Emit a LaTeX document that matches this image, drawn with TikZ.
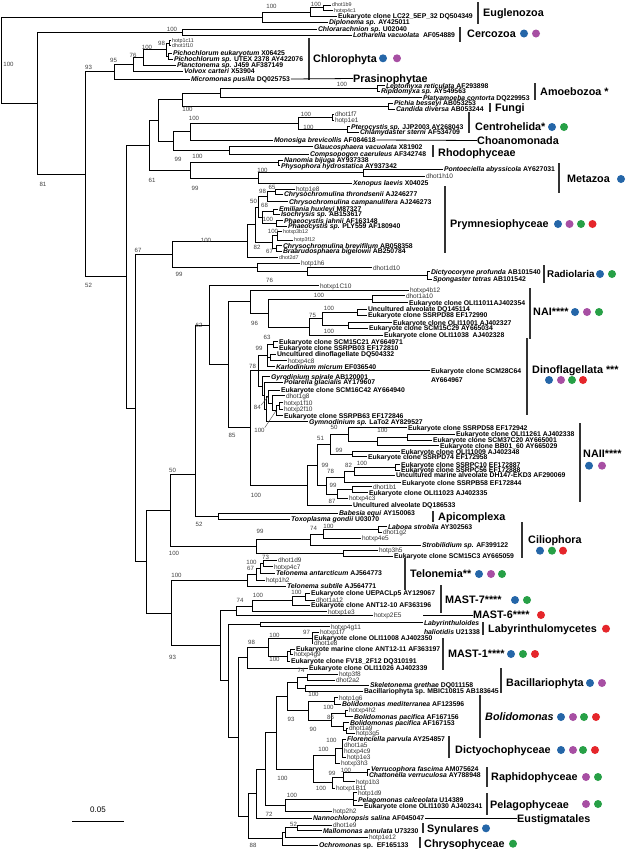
\documentclass[tikz,border=0pt]{standalone}
\usepackage{fontspec}
\setmainfont{Liberation Sans}
\definecolor{cB}{HTML}{2566A8}
\definecolor{cM}{HTML}{A74FA3}
\definecolor{cG}{HTML}{27A046}
\definecolor{cR}{HTML}{E5262B}
\tikzset{
 br/.style={line width=0.8pt, black},
 sp/.style={anchor=west, inner sep=0.8pt, text height=4.7pt, text depth=0pt, font=\fontsize{6.85}{6.85}\selectfont\bfseries},
 ev/.style={anchor=west, inner sep=0.8pt, text height=4.6pt, text depth=0pt, font=\fontsize{6.5}{6.5}\selectfont, text=black!80},
 evs/.style={ev, text height=3.9pt, font=\fontsize{5.4}{5.4}\selectfont},
 bs/.style={inner sep=0pt, text height=4.3pt, text depth=0pt, font=\fontsize{6.1}{6.1}\selectfont, text=black!75},
 cl/.style={anchor=west, inner sep=0pt, text height=7.6pt, text depth=0pt, font=\fontsize{10.8}{12}\selectfont\bfseries},
 bar/.style={line width=1.3pt, black!80},
 dot/.style={circle, inner sep=0pt, minimum size=8pt},
 ldr/.style={line width=0.4pt, black!70},
}
\newcommand\EI[2]{\draw[br] (#1) |- (#2);}
\newcommand\EL[2]{\draw[br] (#1) |- (#2.west);}
\begin{document}
\begin{tikzpicture}[x=1pt,y=-1pt]
\fill[white] (0,0) rectangle (626,849);
\useasboundingbox (0,0) rectangle (626,849);
% ---------- internal nodes
\coordinate (R) at (1,60.2);
\coordinate (N262) at (262,17.2);
\coordinate (N310) at (310,12.1);
\coordinate (N323) at (323,7.85);
\coordinate (N37) at (37,103.2);
\coordinate (N182c) at (182,32.25);
\coordinate (N85) at (85,174.1);
\coordinate (N114) at (114,71.6);
\coordinate (N133) at (133,64.2);
\coordinate (N143) at (143,57.75);
\coordinate (N166) at (166,49.8);
\coordinate (N169a) at (169,43.1);
\coordinate (N169b) at (168,56.3);
\coordinate (N126) at (126,276.6);
\coordinate (N149) at (149,145.35);
\coordinate (N158) at (158,120.3);
\coordinate (N182) at (182,99.65);
\coordinate (N220a) at (220,93.0);
\coordinate (N377a) at (377,88.35);
\coordinate (N388) at (388,106.3);
\coordinate (N173) at (173,141);
\coordinate (N190) at (190,131.65);
\coordinate (N298) at (298,123.3);
\coordinate (N332) at (332,117.15);
\coordinate (N347) at (347,129.5);
\coordinate (N229) at (229,150.35);
\coordinate (N190b) at (190,170.4);
\coordinate (N278) at (278,162.85);
\coordinate (N258) at (258,178);
\coordinate (N363) at (363,172.65);
\coordinate (N135) at (135,407.9);
\coordinate (N172) at (172,254.3);
\coordinate (N247) at (247,241.15);
\coordinate (N255) at (255,224.6);
\coordinate (N258p) at (258,207.15);
\coordinate (N267) at (267,196.7);
\coordinate (N275) at (275,191.65);
\coordinate (N262p) at (262,217.6);
\coordinate (N273) at (273,211.8);
\coordinate (N276a) at (276,223.35);
\coordinate (N272) at (272,242.1);
\coordinate (N277) at (277,235.85);
\coordinate (N276b) at (276,248.35);
\coordinate (N257r) at (257,267.4);
\coordinate (N307r) at (307,271.5);
\coordinate (N427) at (427,275.35);
\coordinate (N146) at (146,561.5);
\coordinate (N170) at (170,510.1);
\coordinate (N195) at (195,474);
\coordinate (N209) at (209,325.2);
\coordinate (N228) at (228,364.7);
\coordinate (N250n) at (250,301.5);
\coordinate (N268) at (268,313.05);
\coordinate (N372) at (372,299.2);
\coordinate (N309) at (309,326.9);
\coordinate (N322) at (322,318.8);
\coordinate (N357) at (357,312.15);
\coordinate (N348) at (348,325.5);
\coordinate (N250c) at (250,427.85);
\coordinate (D0) at (258,370.7);
\coordinate (N267d) at (267,355.7);
\coordinate (N273d) at (273,344.7);
\coordinate (N266) at (270,357.35);
\coordinate (Lg) at (262,386.2);
\coordinate (N264g) at (264,395.7);
\coordinate (N266g) at (266,409.15);
\coordinate (N268g) at (268,396.6);
\coordinate (N272g) at (272,403.25);
\coordinate (N276g) at (276,410.8);
\coordinate (N279g) at (279,405.85);
\coordinate (N307) at (307,485);
\coordinate (N317) at (317,464.95);
\coordinate (N330) at (330,444.4);
\coordinate (N348n) at (348,434.55);
\coordinate (N377n) at (377,441.4);
\coordinate (N407) at (407,437.15);
\coordinate (N352n) at (352,454.2);
\coordinate (N326) at (326,485.5);
\coordinate (N344) at (344,477);
\coordinate (N354) at (354,471.25);
\coordinate (N395) at (395,467.5);
\coordinate (N337) at (337,494);
\coordinate (N352b) at (352,489.7);
\coordinate (N218) at (218,516.3);
\coordinate (N256c) at (256,546.2);
\coordinate (N310c) at (310,539.45);
\coordinate (N323c) at (323,533.9);
\coordinate (N378c) at (378,529.5);
\coordinate (N343c) at (343,553);
\coordinate (N171) at (171,612.9);
\coordinate (N247t) at (247,580.1);
\coordinate (N256t) at (256,574.15);
\coordinate (N260t) at (260,568.3);
\coordinate (N263t) at (263,563.35);
\coordinate (N220) at (220,645.7);
\coordinate (N236) at (236,610.6);
\coordinate (N252) at (252,606.25);
\coordinate (N292) at (292,600.8);
\coordinate (N305) at (305,596.65);
\coordinate (N228s) at (228,680.85);
\coordinate (N260l) at (260,624.7);
\coordinate (N238) at (238,737);
\coordinate (N247m) at (247,657.75);
\coordinate (N268m) at (268,647.2);
\coordinate (N312) at (312,638);
\coordinate (N287m) at (287,656.4);
\coordinate (N290) at (290,651.8);
\coordinate (N248) at (248,816.2);
\coordinate (N256) at (256,793.6);
\coordinate (N265) at (265,768.95);
\coordinate (N276) at (276,732.8);
\coordinate (N287) at (287,696.5);
\coordinate (N297b) at (297,682.5);
\coordinate (N307b) at (307,677);
\coordinate (N305b) at (305,688);
\coordinate (N308) at (308,710.5);
\coordinate (N334) at (334,701);
\coordinate (N331b) at (331,720);
\coordinate (N347b) at (345,713.35);
\coordinate (N343b) at (343,726.6);
\coordinate (N346) at (346,730.5);
\coordinate (N313) at (313,769.15);
\coordinate (N335) at (335,755.7);
\coordinate (N342) at (342,748.15);
\coordinate (N332r) at (332,782.6);
\coordinate (N343r) at (343,776.9);
\coordinate (N367) at (367,772.15);
\coordinate (N285p) at (285,805.1);
\coordinate (N353) at (353,799.2);
\coordinate (N282) at (282,838.8);
\coordinate (N285s) at (285,832.6);
\coordinate (N297s) at (297,827.85);
% ---------- internal edges
\EI{R}{N262}\EI{R}{N37}\EI{N262}{N310}\EI{N310}{N323}
\EI{N37}{N182c}\EI{N37}{N85}\EI{N85}{N114}\EI{N114}{N133}\EI{N133}{N143}\EI{N143}{N166}
\EI{N166}{N169a}\EI{N166}{N169b}\EI{N85}{N126}\EI{N126}{N149}\EI{N149}{N158}\EI{N158}{N182}
\EI{N182}{N220a}\EI{N220a}{N377a}\EI{N182}{N388}\EI{N158}{N173}\EI{N173}{N190}\EI{N190}{N298}
\EI{N298}{N332}\EI{N298}{N347}\EI{N173}{N229}\EI{N149}{N190b}\EI{N190b}{N278}\EI{N190b}{N258}
\EI{N258}{N363}\EI{N126}{N135}\EI{N135}{N172}\EI{N172}{N247}\EI{N247}{N255}\EI{N255}{N258p}
\EI{N258p}{N267}\EI{N267}{N275}\EI{N258p}{N262p}\EI{N262p}{N273}\EI{N262p}{N276a}\EI{N255}{N272}
\EI{N272}{N277}\EI{N272}{N276b}\EI{N172}{N257r}\EI{N257r}{N307r}\EI{N307r}{N427}\EI{N135}{N146}
\EI{N146}{N170}\EI{N170}{N195}\EI{N195}{N209}\EI{N209}{N228}\EI{N228}{N250n}\EI{N250n}{N268}
\EI{N268}{N372}\EI{N268}{N309}\EI{N309}{N322}\EI{N322}{N357}\EI{N322}{N348}\EI{N228}{N250c}
\EI{N250c}{D0}\EI{D0}{N267d}\EI{N267d}{N273d}\EI{N267d}{N266}\EI{D0}{Lg}\EI{Lg}{N264g}
\EI{N264g}{N266g}\EI{N266g}{N268g}\EI{N268g}{N272g}\EI{N272g}{N276g}\EI{N276g}{N279g}
\EI{N250c}{N307}\EI{N307}{N317}\EI{N317}{N330}\EI{N330}{N348n}\EI{N348n}{N377n}\EI{N377n}{N407}
\EI{N330}{N352n}\EI{N317}{N326}\EI{N326}{N344}\EI{N344}{N354}\EI{N354}{N395}\EI{N326}{N337}
\EI{N337}{N352b}\EI{N195}{N218}\EI{N170}{N256c}\EI{N256c}{N310c}\EI{N310c}{N323c}\EI{N323c}{N378c}
\EI{N256c}{N343c}\EI{N146}{N171}\EI{N171}{N247t}\EI{N247t}{N256t}\EI{N256t}{N260t}\EI{N260t}{N263t}
\EI{N171}{N220}\EI{N220}{N236}\EI{N236}{N252}\EI{N252}{N292}\EI{N292}{N305}\EI{N220}{N228s}
\EI{N228s}{N260l}\EI{N228s}{N238}\EI{N238}{N247m}\EI{N247m}{N268m}\EI{N268m}{N312}\EI{N268m}{N287m}
\EI{N287m}{N290}\EI{N238}{N248}\EI{N248}{N256}\EI{N256}{N265}\EI{N265}{N276}\EI{N276}{N287}
\EI{N287}{N297b}\EI{N297b}{N307b}\EI{N297b}{N305b}\EI{N287}{N308}\EI{N308}{N334}\EI{N308}{N331b}
\EI{N331b}{N347b}\EI{N331b}{N343b}\EI{N343b}{N346}\EI{N276}{N313}\EI{N313}{N335}\EI{N335}{N342}
\EI{N313}{N332r}\EI{N332r}{N343r}\EI{N343r}{N367}\EI{N265}{N285p}\EI{N285p}{N353}\EI{N248}{N282}
\EI{N282}{N285s}\EI{N285s}{N297s}
% ---------- leaves
\node[evs] (lA) at (331,5) {dhot1b9}; \EL{N323}{lA}
\node[evs] (lB) at (333,10.7) {hotxp4c1}; \EL{N323}{lB}
\node[sp] (lC) at (337,16.3) {Eukaryote clone LC22\_5EP\_32 DQ504349}; \EL{N310}{lC}
\node[sp] (lD) at (328,22.3) {\textit{Diplonema sp.} AY425011}; \EL{N262}{lD}
\node[sp] (lE) at (317,29.5) {\textit{Chlorarachnion sp.} U02040}; \EL{N182c}{lE}
\node[sp] (lF) at (352,35) {\textit{Lotharella vacuolata}\ \ AF054889}; \EL{N182c}{lF}
\node[evs] (lG) at (171,40.7) {hotp1c11}; \EL{N169a}{lG}
\node[evs] (lH) at (171,45.5) {dhot1f10}; \EL{N169a}{lH}
\node[sp] (lI) at (172,53.3) {\textit{Pichochlorum eukaryotum} X06425}; \EL{N169b}{lI}
\node[sp] (lJ) at (173,59.3) {\textit{Pichochlorum sp.} UTEX 2378 AY422076}; \EL{N169b}{lJ}
\node[sp] (lK) at (176,65.5) {\textit{Planctonema sp.} J459 AF387149}; \EL{N143}{lK}
\node[sp] (lL) at (183,70.9) {\textit{Volvox carteri} X53904}; \EL{N133}{lL}
\node[sp] (lM) at (190,79) {\textit{Micromonas pusilla} DQ025753}; \EL{N114}{lM}
\node[sp] (lN) at (385,85.7) {\textit{Leptomyxa reticulata} AF293898}; \EL{N377a}{lN}
\node[sp] (lO) at (380,91) {\textit{Ripidomyxa sp.} AY549563}; \EL{N377a}{lO}
\node[sp] (lP) at (422,97.7) {\textit{Platyamoeba contorta} DQ229953}; \EL{N220a}{lP}
\node[sp] (lQ) at (393,103.3) {\textit{Pichia besseyi} AB053253}; \EL{N388}{lQ}
\node[sp] (lR) at (395,109.3) {\textit{Candida diversa} AB053244}; \EL{N388}{lR}
\node[ev] (lS) at (334,114.3) {dhot1f7}; \EL{N332}{lS}
\node[ev] (lT) at (334,120) {hotp1e1}; \EL{N332}{lT}
\node[sp] (lU) at (350,126.7) {\textit{Pterocystis sp.} JJP2003 AY268043}; \EL{N347}{lU}
\node[sp] (lV) at (359,132.3) {\textit{Chlamydaster sterni} AF534709}; \EL{N347}{lV}
\node[sp] (lW) at (273,140) {\textit{Monosiga brevicollis} AF084618}; \EL{N190}{lW}
\node[sp] (lX) at (313,146.7) {\textit{Glaucosphaera vacuolata} X81902}; \EL{N229}{lX}
\node[sp] (lY) at (309,154) {\textit{Compsopogon caeruleus} AF342748}; \EL{N229}{lY}
\node[sp] (lZ) at (283,160) {\textit{Nanomia bijuga} AY937338}; \EL{N278}{lZ}
\node[sp] (la) at (280,165.7) {\textit{Physophora hydrostatica} AY937342}; \EL{N278}{la}
\node[sp] (lb) at (443,169.3) {\textit{Pontoeciella abyssicola} AY627031}; \EL{N363}{lb}
\node[ev] (lc) at (425,176) {dhot1h10}; \EL{N363}{lc}
\node[sp] (ld) at (352,183.3) {\textit{Xenopus laevis} X04025}; \EL{N258}{ld}
\node[ev] (le) at (295,189) {hotp1e8}; \EL{N275}{le}
\node[sp] (lf) at (283,194.3) {\textit{Chrysochromulina throndsenii} AJ246277}; \EL{N275}{lf}
\node[sp] (lg) at (288,201.7) {\textit{Chrysochromulina campanulifera} AJ246273}; \EL{N267}{lg}
\node[sp] (lh) at (278,209.3) {\textit{Emiliania huxleyi} M87327}; \EL{N273}{lh}
\node[sp] (li) at (280,214.3) {\textit{Isochrysis sp.} AB153617}; \EL{N273}{li}
\node[sp] (lj) at (283,220.7) {\textit{Phaeocystis jahnii} AF163148}; \EL{N276a}{lj}
\node[sp] (lk) at (287,226) {\textit{Phaeocystis sp.} PLY559 AF180940}; \EL{N276a}{lk}
\node[evs] (ll) at (282,231.7) {hotxp3b12}; \EL{N277}{ll}
\node[evs] (lm) at (293,240) {hotp3f12}; \EL{N277}{lm}
\node[sp] (ln) at (282,245.7) {\textit{Chrysochromulina brevifilum} AB058358}; \EL{N276b}{ln}
\node[sp] (lo) at (282,251) {\textit{Braarudosphaera bigelowii} AB250784}; \EL{N276b}{lo}
\node[evs] (lp) at (278,257.7) {dhot2d7}; \EL{N247}{lp}
\node[ev] (lq) at (300,263.3) {hotp1h6}; \EL{N257r}{lq}
\node[ev] (lr) at (372,267.7) {dhot1d10}; \EL{N307r}{lr}
\node[sp] (ls) at (430,271.7) {\textit{Dictyocoryne profunda} AB101540}; \EL{N427}{ls}
\node[sp] (lt) at (432,279) {\textit{Spongaster tetras} AB101542}; \EL{N427}{lt}
\node[ev] (lu) at (319,285.7) {hotxp1C10}; \EL{N209}{lu}
\node[ev] (lv) at (409,290) {hotxp4b12}; \EL{N250n}{lv}
\node[ev] (lw) at (405,295.7) {dhot1a10}; \EL{N372}{lw}
\node[sp] (lx) at (408,302.7) {Eukaryote clone OLI11011AJ402354}; \EL{N372}{lx}
\node[sp] (ly) at (367,309.3) {Uncultured alveolate DQ145114}; \EL{N357}{ly}
\node[sp] (lz) at (367,315) {Eukaryote clone SSRPD88 EF172990}; \EL{N357}{lz}
\node[sp] (m1) at (392,322.7) {Eukaryote clone OLI11001 AJ402327}; \EL{N348}{m1}
\node[sp] (m2) at (368,328.3) {Eukaryote clone SCM15C29 AY665034}; \EL{N348}{m2}
\node[sp] (m3) at (383,335) {Eukaryote clone OLI11038\ \ AJ402328}; \EL{N309}{m3}
\node[sp] (m4) at (278,341.7) {Eukaryote clone SCM15C21 AY664971}; \EL{N273d}{m4}
\node[sp] (m5) at (278,347.7) {Eukaryote clone SSRPB03 EF172810}; \EL{N273d}{m5}
\node[sp] (m6) at (276,354) {Uncultured dinoflagellate DQ504332}; \EL{N266}{m6}
\node[ev] (m7) at (287,360.7) {hotxp4c8}; \EL{N266}{m7}
\node[sp] (m8) at (275,366.7) {\textit{Karlodinium micrum} EF036540}; \EL{N267d}{m8}
\node[sp] (m9) at (430,370.7) {Eukaryote clone SCM28C64}; \EL{D0}{m9}
\node[sp] (m9b) at (430,380) {AY664967};
\node[sp] (m10) at (270,376.7) {\textit{Gyrodinium spirale} AB120001}; \EL{Lg}{m10}
\node[sp] (m11) at (283,382.3) {\textit{Polarella glacialis} AY179607}; \EL{N264g}{m11}
\node[sp] (m12) at (280,390) {Eukaryote clone SCM16C42 AY664940}; \EL{N268g}{m12}
\node[ev] (m13) at (285,395.7) {dhot1g8}; \EL{N272g}{m13}
\node[ev] (m14) at (283,402.7) {hotxp1f10}; \EL{N279g}{m14}
\node[ev] (m15) at (283,409) {hotxp2f10}; \EL{N279g}{m15}
\node[sp] (m16) at (283,415.7) {Eukaryote clone SSRPB63 EF172846}; \EL{N276g}{m16}
\node[sp] (m17) at (308,421.7) {\textit{Gymnodinium sp.} LaTo2 AY829527}; \EL{N266g}{m17}
\node[sp] (m18) at (407,427.7) {Eukaryote clone SSRPD58 EF172942}; \EL{N348n}{m18}
\node[sp] (m19) at (455,434.3) {Eukaryote clone OLI11261 AJ402338}; \EL{N407}{m19}
\node[sp] (m20) at (432,440) {Eukaryote clone SCM37C20 AY665001}; \EL{N407}{m20}
\node[sp] (m21) at (439,445.7) {Eukaryote clone BB01\_60 AY665029}; \EL{N377n}{m21}
\node[sp] (m22) at (400,451.7) {Eukaryote clone OLI11009 AJ402348}; \EL{N352n}{m22}
\node[sp] (m23) at (367,456.7) {Eukaryote clone SSRPD74 EF172958}; \EL{N352n}{m23}
\node[sp] (m24) at (400,464.8) {Eukaryote clone SSRPC10 EF172887}; \EL{N395}{m24}
\node[sp] (m25) at (400,470) {Eukaryote clone SSRPC56 EF172888}; \EL{N395}{m25}
\node[sp] (m26) at (395,475.3) {Uncultured marine alveolate DH147-EKD3 AF290069}; \EL{N354}{m26}
\node[sp] (m27) at (401,482.7) {Eukaryote clone SSRPB58 EF172844}; \EL{N344}{m27}
\node[ev] (m28) at (372,486.7) {dhot1b1}; \EL{N352b}{m28}
\node[sp] (m29) at (368,492.7) {Eukaryote clone OLI11023 AJ402335}; \EL{N352b}{m29}
\node[ev] (m30) at (348,498.3) {hotxp4c3}; \EL{N337}{m30}
\node[sp] (m31) at (352,505) {Uncultured alveolate DQ186533}; \EL{N307}{m31}
\node[sp] (m32) at (338,513.3) {\textit{Babesia equi} AY150063}; \EL{N218}{m32}
\node[sp] (m33) at (290,519) {\textit{Toxoplasma gondii} U03070}; \EL{N218}{m33}
\node[sp] (m34) at (387,526.7) {\textit{Laboea strobila} AY302563}; \EL{N378c}{m34}
\node[ev] (m35) at (382,532.3) {dhot1g2}; \EL{N378c}{m35}
\node[ev] (m36) at (361,538.3) {hotxp4e5}; \EL{N323c}{m36}
\node[sp] (m37) at (421,545) {\textit{Strobilidium sp.} AF399122}; \EL{N310c}{m37}
\node[ev] (m38) at (378,550) {hotp3h5}; \EL{N343c}{m38}
\node[sp] (m39) at (393,556) {Eukaryote clone SCM15C3 AY665059}; \EL{N343c}{m39}
\node[ev] (m40) at (277,560) {dhot1d9}; \EL{N263t}{m40}
\node[ev] (m41) at (273,566.7) {hotxp4c7}; \EL{N263t}{m41}
\node[sp] (m42) at (275,573.3) {\textit{Telonema antarcticum} AJ564773}; \EL{N260t}{m42}
\node[ev] (m43) at (265,580) {hotp1h2}; \EL{N256t}{m43}
\node[sp] (m44) at (286,586) {\textit{Telonema subtile} AJ564771}; \EL{N247t}{m44}
\node[sp] (m45) at (310,593.3) {Eukaryote clone UEPACLp5 AY129067}; \EL{N305}{m45}
\node[ev] (m46) at (315,600) {dhot1a12}; \EL{N305}{m46}
\node[sp] (m47) at (310,605) {Eukaryote clone ANT12-10 AF363196}; \EL{N292}{m47}
\node[ev] (m48) at (327,611.7) {hotxp1e3}; \EL{N252}{m48}
\node[ev] (m49) at (373,615) {hotxp2E5}; \EL{N236}{m49}
\node[sp] (m50) at (423,622.7) {\textit{Labyrinthuloides}}; \EL{N260l}{m50}
\node[sp] (m50b) at (423,632.3) {\textit{haliotidis} U21338};
\node[ev] (m51) at (330,626.7) {hotxp4g11}; \EL{N260l}{m51}
\node[ev] (m52) at (319,632.4) {hotxp1f7}; \EL{N312}{m52}
\node[sp] (m53) at (313,637.8) {Eukaryote clone OLI11008 AJ402350}; \EL{N312}{m53}
\node[ev] (m54) at (313,643.5) {dhot1e8}; \EL{N312}{m54}
\node[sp] (m55) at (295,649.3) {Eukaryote marine clone ANT12-11 AF363197}; \EL{N290}{m55}
\node[ev] (m56) at (293,654.5) {hotxp4g9}; \EL{N290}{m56}
\node[sp] (m57) at (290,661) {Eukaryote clone FV18\_2F12 DQ310191}; \EL{N287m}{m57}
\node[sp] (m58) at (308,668.3) {Eukaryote clone OLI11026 AJ402339}; \EL{N247m}{m58}
\node[ev] (m59) at (338,674) {hotp3f8}; \EL{N307b}{m59}
\node[ev] (m60) at (335,680) {dhot2a2}; \EL{N307b}{m60}
\node[sp] (m61) at (369,685) {\textit{Skeletonema grethae} DQ011158}; \EL{N305b}{m61}
\node[sp] (m62) at (363,691) {Bacillariophyta sp. MBIC10815 AB183645}; \EL{N305b}{m62}
\node[ev] (m63) at (338,697.7) {hotp1g6}; \EL{N334}{m63}
\node[sp] (m64) at (341,704.3) {\textit{Bolidomonas mediterranea} AF123596}; \EL{N334}{m64}
\node[ev] (m65) at (348,710) {hotxp4h2}; \EL{N347b}{m65}
\node[sp] (m66) at (353,716.7) {\textit{Bolidomonas pacifica} AF167156}; \EL{N347b}{m66}
\node[sp] (m67) at (349,722.7) {\textit{Bolidomonas pacifica} AF167153}; \EL{N343b}{m67}
\node[ev] (m68) at (348,727.9) {dhot1a9}; \EL{N346}{m68}
\node[ev] (m69) at (355,733.3) {hotp3g5}; \EL{N346}{m69}
\node[sp] (m70) at (346,739) {\textit{Florenciella parvula} AY254857}; \EL{N342}{m70}
\node[ev] (m71) at (343,745) {dhot1a5}; \EL{N342}{m71}
\node[ev] (m72) at (343,751.5) {hotxp4c9}; \EL{N342}{m72}
\node[ev] (m73) at (346,757.3) {hotp1e3}; \EL{N342}{m73}
\node[ev] (m74) at (340,763.3) {hotxp3h3}; \EL{N335}{m74}
\node[sp] (m75) at (370,769.3) {\textit{Verrucophora fascima} AM075624}; \EL{N367}{m75}
\node[sp] (m76) at (368,775) {\textit{Chattonella verruculosa} AY788948}; \EL{N367}{m76}
\node[ev] (m77) at (355,781.7) {hotp1b3}; \EL{N343r}{m77}
\node[ev] (m78) at (335,788.3) {hotxp1B11}; \EL{N332r}{m78}
\node[ev] (m79) at (357,792.7) {hotp1d9}; \EL{N353}{m79}
\node[sp] (m80) at (357,800) {\textit{Pelagomonas calceolata} U14389}; \EL{N353}{m80}
\node[sp] (m81) at (363,805.7) {Eukaryote clone OLI11030 AJ402341}; \EL{N353}{m81}
\node[ev] (m82) at (332,811) {hotp2h2}; \EL{N285p}{m82}
\node[sp] (m83) at (312,818.3) {\textit{Nannochloropsis salina} AF045047}; \EL{N256}{m83}
\node[ev] (m84) at (332,825) {dhot1e9}; \EL{N297s}{m84}
\node[sp] (m85) at (322,830.7) {\textit{Mallomonas annulata} U73230}; \EL{N297s}{m85}
\node[ev] (m86) at (368,837.3) {hotp1e12}; \EL{N285s}{m86}
\node[sp] (m87) at (318,845) {\textit{Ochromonas} sp.\ \ EF165133}; \EL{N282}{m87}
% ---------- bootstrap values
\foreach \x/\y/\t [count=\i] in {271.5/6.7/100,316/4/100,172/29.5/100,161.5/43.5/98,147/47/100,133/55/76,113.5/60/95,88.5/67/93,8.5/64/100,43/184/81,88.5/285/52,342/84.5/100,187.5/109.5/100,194/118.3/100,306/114/100,308.5/127/100,178/159.5/99,197.5/156/100,262.5/170.3/100,195/188.3/99,152/180/61,272/187.5/65,262.5/191.5/98,253.5/201.5/50,264.5/205/68,268/219/100,273/231/100,257/247.5/82,269.5/251.5/67,206/240/100,138/250/67,179/274/99,269.5/280/76,319/295/100,329/308.3/100,312.5/315/75,254.5/323.3/96,199/325/62,329/331.7/100,267/337.5/63,259/348.3/99,252.5/366.8/78,232/435.8/85,334/427.5/50,382.5/430.8/100,320.5/438.5/51,339/450/99,325/465/99,348.5/465/82,362/463.3/100,330.5/471.7/78,333/485/99,256/495/100,332/501.7/87,172.5/470.5/50,199/524/52,313.5/528.8/74,328.5/526/100,260/531.7/99,174/553.3/100,251.5/562.2/100,265.5/557.5/73,250.5/568.3/67,176.5/575.8/100,258/595.8/100,240/600.5/74,296.5/592.5/100,172.5/657.5/93,306.5/632.5/97,274.5/635.8/100,251.5/642.5/98,274.5/659.2/100,301/670.8/74,313.5/694.8/100,328.5/707.5/100,330.5/717.5/86,291/719.2/93,313/729.2/90,331.5/740/100,323.5/749/100,282.5/778.3/100,332/773.3/99,346/770.8/100,321/788.3/100,292/795.8/100,269/814.2/72,293.5/824.2/52,253/845/88}
  {\node[bs] (bs\i) at (\x,\y) {\t};}
\node[bs] (b84) at (257.3,407.7) {84};
\node[bs] (b100d) at (259.5,430) {100};
\draw[ldr] (b84.north east) -- (N268g);
\draw[ldr] (b100d.north east) -- (N276g);
% ---------- clade bars
\foreach \x/\a/\b in {478/2/24,460/27/42,309/38/80,535/83/100,490/103/112,469/112/133,433/145/157,559/163/193,445/186/253,544/265/283,530/288/339,527/338/415,580/423/502,433/511/522,522/522/558,405/558/590,441/585/613,483/622/635,443/638/670,501/668/693,480/695/738,449/736/758,487/767/787,487/793/815,423/823/833,420/837/848}
  {\draw[bar] (\x,\a) -- (\x,\b);}
% ---------- clade labels
\node[cl] (cEug) at (483,13) {Euglenozoa};
\node[cl] (cCer) at (467,33.5) {Cercozoa};
\node[cl] (cChl) at (313,58.3) {Chlorophyta};
\node[cl] (cPra) at (353,78.5) {Prasinophytae};
\node[cl] (cAmo) at (540,92) {Amoebozoa *};
\node[cl] (cFun) at (495,108) {Fungi};
\node[cl] (cCen) at (475,127) {Centrohelida*};
\node[cl] (cCho) at (477,140.5) {Choanomonada};
\node[cl] (cRho) at (438,153) {Rhodophyceae};
\node[cl] (cMet) at (567,179) {Metazoa};
\node[cl] (cPry) at (450,224) {Prymnesiophyceae};
\node[cl, font=\fontsize{9.8}{11}\selectfont\bfseries] (cRad) at (547,274) {Radiolaria};
\node[cl] (cNAI) at (533,312) {NAI****};
\node[cl] (cDin) at (532,370) {Dinoflagellata ***};
\node[cl] (cNAII) at (583,454) {NAII****};
\node[cl] (cApi) at (438,516.7) {Apicomplexa};
\node[cl] (cCil) at (528,539.7) {Ciliophora};
\node[cl] (cTel) at (410,574) {Telonemia**};
\node[cl] (cM7) at (445,600) {MAST-7****};
\node[cl] (cM6) at (473,615) {MAST-6****};
\node[cl] (cLab) at (488,628.7) {Labyrinthulomycetes};
\node[cl] (cM1) at (448,654) {MAST-1****};
\node[cl] (cBac) at (506,683) {Bacillariophyta};
\node[cl] (cBol) at (485,717) {\textit{Bolidomonas}};
\node[cl] (cDic) at (455,750) {Dictyochophyceae};
\node[cl] (cRap) at (491,777) {Raphidophyceae};
\node[cl] (cPel) at (490,804.3) {Pelagophyceae};
\node[cl] (cEus) at (517,818.3) {Eustigmatales};
\node[cl] (cSyn) at (427,828.3) {Synulares};
\node[cl] (cChr) at (424,843.7) {Chrysophyceae};
% connectors label-to-clade
\draw[br] (lM.east) -- (cPra.west);
\draw[br] (lW.east) -- (cCho.west);
\coordinate (m6s) at (423,615);
\draw[br] (m6s) -- (cM6.west);
\draw[br] (m83.east) -- (cEus.west);
% ---------- dots
\foreach \x/\y/\c [count=\i] in {524/33.5/cB,536/33.5/cM,383/58.3/cB,397/58.3/cM,552/127/cB,564/127/cG,621/179/cB,558/224/cB,569.5/224/cM,581/224/cG,592.5/224/cR,600/274/cB,612/274/cG,575/312/cB,587/312/cM,599/312/cG,549/380/cB,561/380/cM,572/380/cG,583/380/cR,589/465.7/cB,602/465.7/cM,540/550.7/cB,552/550.7/cG,563/550.7/cR,479/574/cB,491/574/cM,502/574/cG,515/600/cB,527/600/cG,541/615/cR,606/628.7/cR,511/654/cB,523/654/cG,535/654/cR,590/683/cB,602/683/cM,561/717/cB,573/717/cM,584/717/cG,596/717/cR,561/750/cB,573/750/cM,583/750/cG,595/750/cR,586/777/cM,598/777/cG,586/804/cM,598/804/cG,486/828.3/cB,513/843.7/cG}
  {\node[dot, fill=\c] (dot\i) at (\x,\y) {};}
% ---------- scale bar
\coordinate (sbA) at (72,821);
\coordinate (sbB) at (124,821);
\draw[br] (sbA) -- (sbB);
\node[inner sep=0pt, font=\fontsize{8}{8}\selectfont] (sbT) at (98,810) {0.05};
\end{tikzpicture}
\end{document}
